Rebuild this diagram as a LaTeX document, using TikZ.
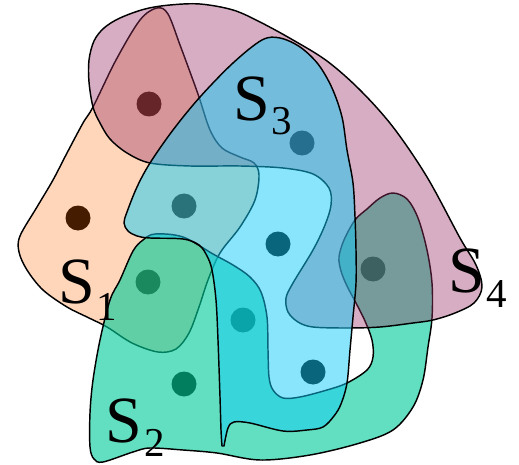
\documentclass[tikz,border=0pt]{standalone}
\usepackage{fontspec}
\setmainfont{Liberation Serif}
\definecolor{setone}{RGB}{255,104,0}
\definecolor{settwo}{RGB}{0,204,153}
\definecolor{setthree}{RGB}{17,203,247}
\definecolor{setfour}{RGB}{153,51,102}
\tikzset{
  setline/.style={draw=black, line width=1.45pt, line join=round},
  oneset/.style={setline, fill=setone, fill opacity=0.27},
  twoset/.style={setline, fill=settwo, fill opacity=0.62},
  threeset/.style={setline, fill=setthree, fill opacity=0.5},
  fourset/.style={setline, fill=setfour, fill opacity=0.4},
  elem/.style={fill=black},
  bigS/.style={anchor=base west, inner sep=0pt, text depth=0pt,
               font=\fontsize{66}{66}\selectfont},
  subidx/.style={anchor=base west, inner sep=0pt, text depth=0pt,
               font=\fontsize{41}{41}\selectfont}
}
\begin{document}
\begin{tikzpicture}[x=1pt, y=-1pt]
\useasboundingbox (0,0) rectangle (519,465);

% elements (the translucent sets are laid over them)
\foreach \px/\py in {149/104, 78/218, 184/206, 302/143, 278/244,
                     373/269, 148/282, 184/384, 243/320, 313/372}
  \fill[elem] (\px,\py) circle[radius=12.5pt];

% S1
\filldraw[oneset] plot[smooth cycle, tension=0.55] coordinates {
  (157,8) (168,14) (180,45) (190,72) (199,97) (210,130) (222,148)
  (240,157) (254,163) (259,175) (255,200) (240,227) (220,253)
  (208,280) (199,307) (189,333) (176,349) (158,352) (132,343)
  (107,327) (87,317) (67,307) (43,290) (27,270) (19,252) (20,236)
  (37,207) (53,180) (67,153) (83,123) (93,107) (116,60) (140,20)};

% S2
\filldraw[twoset] plot[smooth cycle, tension=0.55] coordinates {
  (90,447) (94,459) (103,462) (133,452) (150,448) (183,450) (217,453)
  (260,460) (310,455) (360,443) (393,430) (413,407) (423,380)
  (428,347) (432,318) (432,283) (427,250) (418,218) (407,199)
  (393,193) (380,198) (367,209) (355,220) (344,240) (339,257)
  (341,271) (347,286) (356,303) (365,321) (372,340) (373,357)
  (367,370) (347,383) (327,390) (300,397) (283,398) (273,390)
  (269,377) (268,350) (267,317) (261,292) (250,277) (233,265)
  (213,254) (183,237) (155,234) (143,240) (133,251) (120,280)
  (110,300) (100,340) (93,380) (90,413)};

% S4
\filldraw[fourset] plot[smooth cycle, tension=0.55] coordinates {
  (93,107) (89,82) (89,60) (94,41) (104,28) (120,18) (145,9) (170,5)
  (200,4) (233,10) (260,22) (293,40) (327,61) (360,90) (393,127)
  (427,177) (460,238) (476,265) (482,287) (474,303) (455,313)
  (433,320) (413,323) (380,327) (347,328) (313,327) (298,322)
  (288,312) (286,298) (293,283) (313,250) (325,225) (331,205)
  (329,188) (313,174) (283,168) (240,166) (190,166) (150,163)
  (127,153) (110,139) (100,123)};

% S3, with the sharp spike at the foot of its tail
\filldraw[threeset] plot[smooth, tension=0.55] coordinates {
  (224,446) (228,428) (234,422) (250,423) (283,431) (307,430)
  (323,427) (334,416) (341,404) (347,383) (350,350) (353,317)
  (356,283) (356,250) (355,217) (353,183) (347,150) (342,117)
  (332,88) (318,64) (300,47) (280,38) (262,40) (233,63) (200,97)
  (173,130) (150,163) (137,187) (127,212) (124,223) (128,231)
  (137,236) (150,238) (183,239) (199,245) (207,256) (212,270)
  (216,300) (218,340) (220,397) (221,430) (222,446)} -- cycle;

% labels
\node[bigS]   (labS1) at (58,303)  {S};
\node[subidx] (idx1)  at (96,320)  {1};
\node[bigS]   (labS2) at (105,442) {S};
\node[subidx] (idx2)  at (144,456) {2};
\node[bigS]   (labS3) at (233,121) {S};
\node[subidx] (idx3)  at (271,135) {3};
\node[bigS]   (labS4) at (448,292) {S};
\node[subidx] (idx4)  at (486,307) {4};
\end{tikzpicture}
\end{document}
